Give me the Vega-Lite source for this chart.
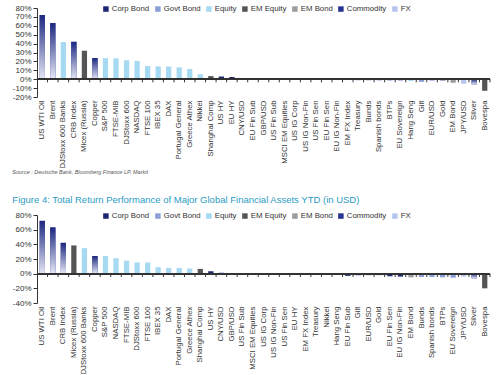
{
  "$schema": "https://vega.github.io/schema/vega-lite/v6.json",
  "background": "white",
  "padding": {"left": 12, "top": 4, "right": 7, "bottom": 0},
  "datasets": {
    "top": [
      {"name": "US WTI Oil", "type": "Commodity", "value": 72},
      {"name": "Brent", "type": "Commodity", "value": 63},
      {"name": "DJStoxx 600 Banks", "type": "Equity", "value": 41.8},
      {"name": "CRB Index", "type": "Commodity", "value": 42},
      {"name": "Micex (Russia)", "type": "EM Equity", "value": 32},
      {"name": "Copper", "type": "Commodity", "value": 23.8},
      {"name": "S&P 500", "type": "Equity", "value": 23.6},
      {"name": "FTSE-MIB", "type": "Equity", "value": 23.4},
      {"name": "DJStoxx 600", "type": "Equity", "value": 21.3},
      {"name": "NASDAQ", "type": "Equity", "value": 20.5},
      {"name": "FTSE 100", "type": "Equity", "value": 14.8},
      {"name": "IBEX 35", "type": "Equity", "value": 14.4},
      {"name": "DAX", "type": "Equity", "value": 14.3},
      {"name": "Portugal General", "type": "Equity", "value": 13.3},
      {"name": "Greece Athex", "type": "Equity", "value": 11.5},
      {"name": "Nikkei", "type": "Equity", "value": 5.5},
      {"name": "Shanghai Comp", "type": "EM Equity", "value": 3.5},
      {"name": "US HY", "type": "Corp Bond", "value": 3},
      {"name": "EU HY", "type": "Corp Bond", "value": 2.5},
      {"name": "CNY/USD", "type": "FX", "value": 1},
      {"name": "EU Fin Sub", "type": "Corp Bond", "value": 0.5},
      {"name": "GBP/USD", "type": "FX", "value": 0.3},
      {"name": "US Fin Sub", "type": "Corp Bond", "value": 0.3},
      {"name": "MSCI EM Equities", "type": "EM Equity", "value": 0.2},
      {"name": "US IG Corp", "type": "Corp Bond", "value": -0.3},
      {"name": "US IG Non-Fin", "type": "Corp Bond", "value": -0.3},
      {"name": "US Fin Sen", "type": "Corp Bond", "value": -0.5},
      {"name": "EU Fin Sen", "type": "Corp Bond", "value": -0.5},
      {"name": "EU IG Non-Fin", "type": "Corp Bond", "value": -0.6},
      {"name": "EM FX Index", "type": "FX", "value": -1},
      {"name": "Treasury", "type": "Govt Bond", "value": -1.2},
      {"name": "Bunds", "type": "Govt Bond", "value": -1.3},
      {"name": "Spanish bonds", "type": "Govt Bond", "value": -1.4},
      {"name": "BTPs", "type": "Govt Bond", "value": -1.5},
      {"name": "EU Sovereign", "type": "Govt Bond", "value": -1.6},
      {"name": "Hang Seng", "type": "Equity", "value": -2},
      {"name": "Gilt", "type": "Govt Bond", "value": -3},
      {"name": "EUR/USD", "type": "FX", "value": -2},
      {"name": "Gold", "type": "Commodity", "value": -2},
      {"name": "EM Bond", "type": "EM Bond", "value": -4},
      {"name": "JPY/USD", "type": "FX", "value": -5},
      {"name": "Silver", "type": "Commodity", "value": -6},
      {"name": "Bovespa", "type": "EM Equity", "value": -13}
    ],
    "bottom": [
      {"name": "US WTI Oil", "type": "Commodity", "value": 72},
      {"name": "Brent", "type": "Commodity", "value": 63},
      {"name": "CRB Index", "type": "Commodity", "value": 42},
      {"name": "Micex (Russia)", "type": "EM Equity", "value": 38.5},
      {"name": "DJStoxx 600 Banks", "type": "Equity", "value": 34.8},
      {"name": "Copper", "type": "Commodity", "value": 24},
      {"name": "S&P 500", "type": "Equity", "value": 24},
      {"name": "NASDAQ", "type": "Equity", "value": 21},
      {"name": "FTSE-MIB", "type": "Equity", "value": 17.7},
      {"name": "DJStoxx 600", "type": "Equity", "value": 15.3},
      {"name": "FTSE 100", "type": "Equity", "value": 15.3},
      {"name": "IBEX 35", "type": "Equity", "value": 8.8},
      {"name": "DAX", "type": "Equity", "value": 7.9},
      {"name": "Portugal General", "type": "Equity", "value": 7.8},
      {"name": "Greece Athex", "type": "Equity", "value": 7},
      {"name": "Shanghai Comp", "type": "EM Equity", "value": 6.5},
      {"name": "US HY", "type": "Corp Bond", "value": 3.3},
      {"name": "CNY/USD", "type": "FX", "value": 2},
      {"name": "GBP/USD", "type": "FX", "value": 0.6},
      {"name": "US Fin Sub", "type": "Corp Bond", "value": 0.5},
      {"name": "MSCI EM Equities", "type": "EM Equity", "value": 0.3},
      {"name": "US IG Corp", "type": "Corp Bond", "value": 0.3},
      {"name": "US IG Non-Fin", "type": "Corp Bond", "value": -0.3},
      {"name": "US Fin Sen", "type": "Corp Bond", "value": -0.5},
      {"name": "EU HY", "type": "Corp Bond", "value": -1.5},
      {"name": "EM FX Index", "type": "FX", "value": -0.8},
      {"name": "Treasury", "type": "Govt Bond", "value": -1},
      {"name": "Nikkei", "type": "Equity", "value": -1.2},
      {"name": "Hang Seng", "type": "Equity", "value": -1.5},
      {"name": "EU Fin Sub", "type": "Corp Bond", "value": -3},
      {"name": "Gilt", "type": "Govt Bond", "value": -2.5},
      {"name": "EUR/USD", "type": "FX", "value": -2.5},
      {"name": "Gold", "type": "Commodity", "value": -2},
      {"name": "EU Fin Sen", "type": "Corp Bond", "value": -3.5},
      {"name": "EU IG Non-Fin", "type": "Corp Bond", "value": -4},
      {"name": "EM Bond", "type": "EM Bond", "value": -5},
      {"name": "Bunds", "type": "Govt Bond", "value": -4.5},
      {"name": "Spanish bonds", "type": "Govt Bond", "value": -4.5},
      {"name": "BTPs", "type": "Govt Bond", "value": -5},
      {"name": "EU Sovereign", "type": "Govt Bond", "value": -5.5},
      {"name": "JPY/USD", "type": "FX", "value": -4},
      {"name": "Silver", "type": "Commodity", "value": -6.5},
      {"name": "Bovespa", "type": "EM Equity", "value": -20}
    ]
  },
  "vconcat": [
    {
      "width": 453,
      "height": 89,
      "data": {"name": "top"},
      "title": {"text": "Source : Deutsche Bank, Bloomberg Finance LP, Markit", "orient": "bottom", "anchor": "start", "fontSize": 5.5, "fontStyle": "italic", "fontWeight": "normal", "color": "#555555", "offset": 2},
      "encoding": {
        "x": {"field": "name", "type": "nominal", "sort": null, "title": null,
              "scale": {"paddingInner": 0.5, "paddingOuter": 0.25},
              "axis": {"labelAngle": -90, "domain": false, "ticks": false, "labelPadding": 3, "labelFontSize": 7.8}},
        "y": {"field": "value", "type": "quantitative", "title": null,
              "scale": {"domain": [-20, 80], "nice": false},
              "axis": {"values": [-20, -10, 0, 10, 20, 30, 40, 50, 60, 70, 80], "labelExpr": "datum.value + '%'", "grid": false}}
      },
      "layer": [
        {
          "mark": {"type": "bar"},
          "encoding": {
            "color": {"field": "type", "type": "nominal", "title": null,
              "scale": {"domain": ["Corp Bond", "Govt Bond", "Equity", "EM Equity", "EM Bond", "Commodity", "FX"],
                        "range": ["#1c2574", "#8c9fd6", "#a6d9f2", "#555555", "#9c9c9c", "#283391", "#b7c4ec"]},
              "legend": {"orient": "none", "legendX": 65, "legendY": -3, "direction": "horizontal"}}
          }
        },
        {
          "transform": [{"filter": "datum.type === 'Commodity'"}],
          "mark": {"type": "bar", "color": {"gradient": "linear", "x1": 0, "y1": 0, "x2": 0, "y2": 1,
            "stops": [{"offset": 0, "color": "#1b2780"}, {"offset": 1, "color": "#e6e8f6"}]}}
        },
        {
          "mark": {"type": "rule", "color": "#333333", "strokeWidth": 1},
          "encoding": {"x": {"field": "name", "type": "nominal", "sort": null, "bandPosition": 1.5}, "y": {"datum": 0}, "y2": {"datum": -3.5}}
        },
        {
          "mark": {"type": "rule", "color": "#333333", "strokeWidth": 1},
          "encoding": {"x": null, "y": {"datum": 0}}
        }
      ]
    },
    {
      "width": 453,
      "height": 88,
      "data": {"name": "bottom"},
      "title": {"text": "Figure 4: Total Return Performance of Major Global Financial Assets YTD (in USD)", "anchor": "start", "fontSize": 9.5, "fontWeight": "normal", "color": "#2b9bc3", "offset": 7},
      "encoding": {
        "x": {"field": "name", "type": "nominal", "sort": null, "title": null,
              "scale": {"paddingInner": 0.5, "paddingOuter": 0.25},
              "axis": {"labelAngle": -90, "domain": false, "ticks": false, "labelPadding": 3, "labelFontSize": 7.8}},
        "y": {"field": "value", "type": "quantitative", "title": null,
              "scale": {"domain": [-40, 80], "nice": false},
              "axis": {"values": [-40, -20, 0, 20, 40, 60, 80], "labelExpr": "datum.value + '%'", "grid": false}}
      },
      "layer": [
        {
          "mark": {"type": "bar"},
          "encoding": {
            "color": {"field": "type", "type": "nominal", "title": null,
              "scale": {"domain": ["Corp Bond", "Govt Bond", "Equity", "EM Equity", "EM Bond", "Commodity", "FX"],
                        "range": ["#1c2574", "#8c9fd6", "#a6d9f2", "#555555", "#9c9c9c", "#283391", "#b7c4ec"]},
              "legend": {"orient": "none", "legendX": 65, "legendY": -3, "direction": "horizontal"}}
          }
        },
        {
          "transform": [{"filter": "datum.type === 'Commodity'"}],
          "mark": {"type": "bar", "color": {"gradient": "linear", "x1": 0, "y1": 0, "x2": 0, "y2": 1,
            "stops": [{"offset": 0, "color": "#1b2780"}, {"offset": 1, "color": "#e6e8f6"}]}}
        },
        {
          "mark": {"type": "rule", "color": "#333333", "strokeWidth": 1},
          "encoding": {"x": {"field": "name", "type": "nominal", "sort": null, "bandPosition": 1.5}, "y": {"datum": 0}, "y2": {"datum": -4.5}}
        },
        {
          "mark": {"type": "rule", "color": "#333333", "strokeWidth": 1},
          "encoding": {"x": null, "y": {"datum": 0}}
        }
      ]
    }
  ],
  "resolve": {"scale": {"color": "independent", "x": "independent", "y": "independent"}},
  "config": {
    "font": "Liberation Sans",
    "view": {"stroke": null},
    "concat": {"spacing": 18},
    "axis": {"labelFontSize": 8, "labelColor": "#333333", "domainColor": "#333333", "tickColor": "#333333", "tickSize": 4, "labelPadding": 2},
    "legend": {"symbolType": "square", "symbolSize": 30, "symbolStrokeWidth": 0, "labelFontSize": 7.8, "labelColor": "#333333", "columnPadding": 4, "labelOffset": 2, "padding": 0}
  }
}
